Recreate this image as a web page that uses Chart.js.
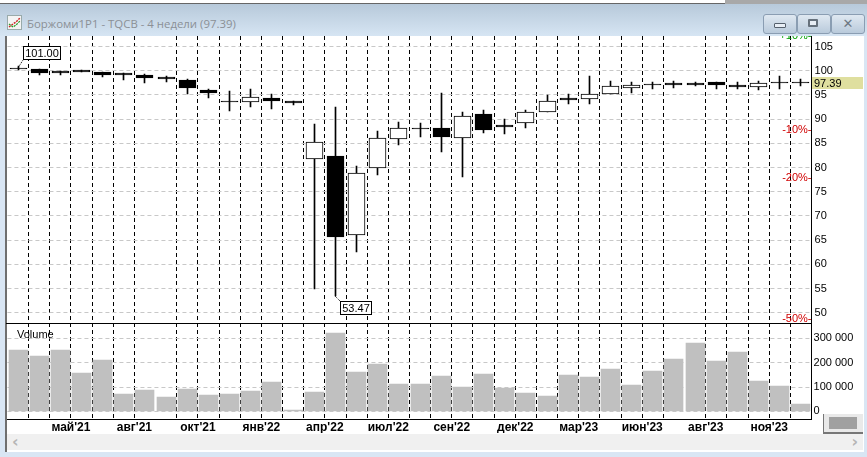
<!DOCTYPE html>
<html>
<head>
<meta charset="utf-8">
<title>Боржоми1Р1</title>
<script src="https://cdn.jsdelivr.net/npm/chart.js@4/dist/chart.umd.min.js"></script>
<style>
  html, body { margin: 0; padding: 0; width: 867px; height: 457px; overflow: hidden; background: #d9e6f4; }
  div, canvas, svg { position: absolute; }
  #topline { left: 0; top: 0; width: 867px; height: 4px; background: #fff; border-bottom: 1px solid #666; box-sizing: border-box; }
  #toptab { left: 725px; top: 0; width: 142px; height: 4px; background: #a8a8a8; }
  #titlebar { left: 0; top: 4px; width: 867px; height: 32px; background: linear-gradient(#b7c9da, #d6e5f3); }
  #title { left: 27px; top: 16px; font: 11.4px "Open Sans", sans-serif; color: #8b9096; white-space: nowrap; }
  .btn { top: 14px; width: 32px; height: 18px; border: 1px solid #8a9db2; border-radius: 3px; background: linear-gradient(#dfe8f1, #b9cadb); text-align: center; box-sizing: content-box; }
  #panel { left: 5px; top: 36px; width: 859px; height: 416px; background: #fff; border-left: 2px solid #6f6f6f; box-sizing: border-box; }
  #scroll { left: 7px; top: 434px; width: 856px; height: 16px; background: #f0f0f0; color: #b5b5b5; font: bold 16px/15px "DejaVu Sans", sans-serif; }
  #grip { left: 823px; top: 414px; width: 39px; height: 18px; background: #e9e9e9; border-left: 1px solid #777; border-bottom: 2px solid #777; }
  #grip div { left: 5px; top: 3px; width: 28px; height: 12px; background: #a0a0a0; }
  #volname { left: 17px; top: 328px; font: 11px "Liberation Sans", sans-serif; color: #000; }
</style>
</head>
<body>
<div id="topline"></div><div id="toptab"></div>
<div id="titlebar"></div>
<svg style="left:7px;top:15px" width="15" height="15">
  <rect x="0.5" y="0.5" width="14" height="14" fill="#f4f4f4" stroke="#9aa"/>
  <polyline points="2,12 6,9 9,7 13,3" fill="none" stroke="#c22" stroke-width="1.4" stroke-dasharray="2 1"/>
  <polyline points="2,9 6,12 9,10 13,6" fill="none" stroke="#292" stroke-width="1.2" stroke-dasharray="2 1"/>
</svg>
<div id="title">Боржоми1Р1 - TQCB - 4 недели (97.39)</div>
<div class="btn" style="left:763px"><div style="left:10px;top:8px;width:10px;height:3px;background:#e8eef5;border:1px solid #55606c;border-radius:1px"></div></div>
<div class="btn" style="left:797px"><div style="left:10px;top:4px;width:6px;height:4px;background:#e8eef5;border:2px solid #66717c;border-radius:1px"></div></div>
<div class="btn" style="left:831px;font:bold 13px/18px 'DejaVu Sans',sans-serif;color:#6d7883">✕</div>
<div id="panel"></div>
<div id="scroll"><span style="position:absolute;left:5px">‹</span><span style="position:absolute;right:5px">›</span></div>
<canvas id="price-chart" width="867" height="287" style="left:0;top:36px"></canvas>
<canvas id="volume-chart" width="867" height="110" style="left:0;top:323px"></canvas>
<div id="volname">Volume</div>
<div id="grip"><div></div></div>

<script>
const opens = [100.56, 100.35, 99.94, 100.14, 99.73, 99.52, 99.11, 98.70, 98.08, 96.01, 93.74, 93.53, 94.36, 93.74, 81.76, 82.37, 66.05, 79.90, 85.89, 88.16, 88.16, 86.09, 91.05, 88.78, 89.19, 91.47, 94.36, 94.15, 95.18, 96.43, 97.25, 97.46, 97.46, 97.67, 97.05, 96.64, 97.67, 97.67];
const closes = [100.56, 99.52, 99.52, 99.73, 99.11, 99.11, 98.49, 98.29, 96.43, 95.39, 93.74, 94.57, 93.74, 93.33, 85.27, 65.64, 78.86, 86.09, 88.16, 88.16, 86.30, 90.64, 87.75, 88.37, 91.47, 93.74, 93.95, 95.18, 96.84, 97.05, 97.25, 97.05, 97.05, 97.05, 96.64, 97.46, 97.67, 97.67];
const highs = [101.00, 100.35, 99.94, 100.14, 99.73, 99.52, 99.32, 98.90, 98.29, 96.22, 95.80, 96.22, 95.18, 93.74, 88.98, 92.50, 80.31, 87.54, 89.40, 89.19, 95.39, 91.47, 91.88, 90.02, 91.88, 94.98, 95.18, 98.90, 97.87, 97.67, 97.67, 97.87, 97.67, 97.67, 97.67, 97.87, 98.90, 98.29];
const lows = [100.14, 99.11, 99.11, 99.73, 98.70, 98.08, 97.46, 97.67, 95.18, 94.36, 91.67, 92.50, 92.09, 92.91, 54.90, 53.47, 62.54, 78.45, 84.65, 86.30, 83.20, 78.04, 87.13, 86.92, 88.16, 91.47, 93.12, 93.12, 95.18, 95.39, 96.22, 96.43, 96.84, 96.22, 96.22, 96.01, 96.22, 96.84];
const volumes = [252000, 227000, 252000, 157000, 211000, 71000, 88000, 59000, 93000, 67000, 71000, 84000, 120000, 5000, 79000, 322000, 162000, 194000, 112000, 112000, 145000, 100000, 153000, 96000, 75000, 63000, 149000, 141000, 174000, 108000, 166000, 215000, 281000, 207000, 244000, 125000, 104000, 30000];
const periods = opens.map((v, i) => i);

const priceTicks = [105, 100, 95, 90, 85, 80, 75, 70, 65, 60, 55, 50];
const percentTicks = [10, -10, -20, -50];
const volumeTicks = [0, 100000, 200000, 300000];
const monthLabels = ["май'21", "авг'21", "окт'21", "янв'22", "апр'22", "июл'22", "сен'22", "дек'22", "мар'23", "июн'23", "авг'23", "ноя'23"];
const skippedBoundaries = [6, 31];  // no vertical line there in the original
const lastPrice = 97.39;
const highMark = 101.00;
const lowMark = 53.47;

const PLOT_LEFT = 7.44;
const AXIS_WIDTH = 55.48;
const priceMin = 47.87, priceMax = 107.17;
const axisFont = { family: '"Liberation Sans", sans-serif', size: 11 };

// bars sit on whole pixels, like the original terminal draws them
const snapBars = {
  id: 'snapBars',
  beforeDatasetsDraw(chart) {
    chart.getSortedVisibleDatasetMetas().forEach(meta => {
      meta.data.forEach(el => {
        el.x = Math.floor(el.x) + 0.5;
        el.y = Math.round(el.y);
        el.base = Math.round(el.base);
        if (el.y === el.base) el.base = el.y + 1;
      });
    });
  }
};

function callout(ctx, text, fromX, fromY, boxX, boxY, boxW, endX, endY) {
  ctx.save();
  ctx.strokeStyle = '#000';
  ctx.lineWidth = 1;
  ctx.setLineDash([1, 1]);
  ctx.beginPath();
  ctx.moveTo(fromX, fromY);
  ctx.lineTo(endX, endY);
  ctx.stroke();
  ctx.setLineDash([]);
  ctx.fillStyle = '#fff';
  ctx.fillRect(boxX, boxY, boxW, 14);
  ctx.strokeRect(boxX + 0.5, boxY + 0.5, boxW - 1, 13);
  ctx.fillStyle = '#000';
  ctx.font = '11px "Liberation Sans", sans-serif';
  ctx.textAlign = 'center';
  ctx.textBaseline = 'middle';
  ctx.fillText(text, boxX + boxW / 2, boxY + 7.5);
  ctx.restore();
}

const priceMarks = {
  id: 'priceMarks',
  afterDraw(chart) {
    const ctx = chart.ctx, x = chart.scales.x, y = chart.scales.y;
    // current price tag on the axis
    const lastY = Math.round(y.getPixelForValue(lastPrice));
    ctx.save();
    ctx.fillStyle = '#dfdf9f';
    ctx.fillRect(812, lastY - 6, 51, 12);
    ctx.fillStyle = '#000';
    ctx.font = '11px "Liberation Sans", sans-serif';
    ctx.textBaseline = 'middle';
    ctx.fillText(lastPrice.toFixed(2), 814, lastY + 0.5);
    ctx.restore();

    const hx = Math.floor(x.getPixelForValue(highs.indexOf(highMark)));
    const hy = Math.round(y.getPixelForValue(opens[0]));
    callout(ctx, highMark.toFixed(2), hx, hy, hx + 5, hy - 22, 38, hx + 5, hy - 8);
    const lx = Math.floor(x.getPixelForValue(lows.indexOf(lowMark)));
    const ly = Math.round(y.getPixelForValue(lowMark));
    callout(ctx, lowMark.toFixed(2), lx, ly, lx + 5, ly + 5, 32, lx + 5, ly + 5);
  }
};

function boundaryAxis(showLabels) {
  return {
    type: 'linear',
    position: 'bottom',
    bounds: 'data',
    offset: false,
    min: -0.5,
    max: periods.length - 0.5,
    afterBuildTicks(scale) {
      scale.ticks = periods.slice(0, -1)
        .filter(i => !skippedBoundaries.includes(i))
        .map(i => ({ value: i + 0.5 }));
    },
    afterFit(scale) { scale.height = showLabels ? 14 : 0; scale.paddingLeft = 0; scale.paddingRight = 0; },
    grid: { offset: false, color: '#000', drawTicks: false, lineWidth: 1 },
    border: { display: showLabels, color: '#000', dash: [4, 3] },
    ticks: {
      display: showLabels,
      autoSkip: false,
      maxRotation: 0,
      padding: 1,
      color: '#000',
      font: { family: '"Liberation Sans", sans-serif', size: 12, weight: 'bold' },
      callback(value) {
        const i = value - 0.5 - 2;
        return i % 3 === 0 ? monthLabels[i / 3] : '';
      }
    }
  };
}

function rightAxisFit(scale) {
  scale.width = AXIS_WIDTH;
  scale.paddingTop = 0;
  scale.paddingBottom = 0;
}

new Chart(document.getElementById('price-chart').getContext('2d'), {
  type: 'bar',
  plugins: [snapBars, priceMarks],
  data: {
    labels: periods,
    datasets: [
      {
        label: 'Body',
        data: periods.map(i => [opens[i], closes[i]]),
        barThickness: 17,
        grouped: false,
        borderWidth: 1,
        borderSkipped: false,
        borderColor: '#000',
        backgroundColor: periods.map(i => closes[i] > opens[i] ? '#fff' : '#000'),
        xAxisID: 'x', yAxisID: 'y'
      },
      {
        label: 'Range',
        data: periods.map(i => [lows[i], highs[i]]),
        barThickness: 1,
        grouped: false,
        borderWidth: 0,
        backgroundColor: '#000',
        xAxisID: 'x', yAxisID: 'y'
      }
    ]
  },
  options: {
    responsive: false,
    animation: false,
    layout: { padding: { left: PLOT_LEFT, top: 0, bottom: 0, right: 0 } },
    plugins: { legend: { display: false }, tooltip: { enabled: false } },
    scales: {
      x: { display: false },
      xb: boundaryAxis(false),
      y: {
        position: 'right',
        bounds: 'data',
        min: priceMin,
        max: priceMax,
        afterBuildTicks(scale) { scale.ticks = priceTicks.map(value => ({ value })); },
        afterFit: rightAxisFit,
        grid: { color: '#c8c8c8', drawTicks: false },
        border: { color: '#000', width: 1, dash: [4, 3] },
        ticks: { color: '#000', font: axisFont, padding: 3, autoSkip: false }
      },
      pct: {
        position: 'right',
        weight: -1,
        bounds: 'data',
        min: priceMin / lastPrice * 100 - 100,
        max: priceMax / lastPrice * 100 - 100,
        afterBuildTicks(scale) { scale.ticks = percentTicks.map(value => ({ value })); },
        afterFit(scale) { scale.width = 0; scale.paddingTop = 0; scale.paddingBottom = 0; },
        grid: { display: false, drawTicks: false },
        border: { display: false },
        ticks: {
          mirror: true,
          padding: 0,
          autoSkip: false,
          font: axisFont,
          color: ctx => ctx.tick.value > 0 ? '#00a000' : '#d00000',
          callback: value => (value > 0 ? '+' : '') + value + '%-'
        }
      }
    }
  }
});

new Chart(document.getElementById('volume-chart').getContext('2d'), {
  type: 'bar',
  plugins: [snapBars],
  data: {
    labels: periods,
    datasets: [{
      label: 'Volume',
      data: volumes,
      barThickness: 19,
      backgroundColor: '#c0c0c0',
      xAxisID: 'x', yAxisID: 'y'
    }]
  },
  options: {
    responsive: false,
    animation: false,
    layout: { padding: { left: PLOT_LEFT, top: 0, bottom: 0, right: 0 } },
    plugins: { legend: { display: false }, tooltip: { enabled: false } },
    scales: {
      x: { display: false },
      xb: boundaryAxis(true),
      y: {
        position: 'right',
        bounds: 'data',
        min: -31500,
        max: 363000,
        afterBuildTicks(scale) { scale.ticks = volumeTicks.map(value => ({ value })); },
        afterFit: rightAxisFit,
        grid: { color: '#c8c8c8', drawTicks: false },
        border: { color: '#000', width: 1, dash: [4, 3] },
        ticks: {
          color: '#000', font: axisFont, padding: 2, autoSkip: false,
          callback: value => String(value).replace(/\B(?=(\d{3})+$)/g, ' ')
        }
      }
    }
  }
});
</script>
<div style="left:6px;top:323px;width:806px;height:1px;background:#000"></div>
</body>
</html>
